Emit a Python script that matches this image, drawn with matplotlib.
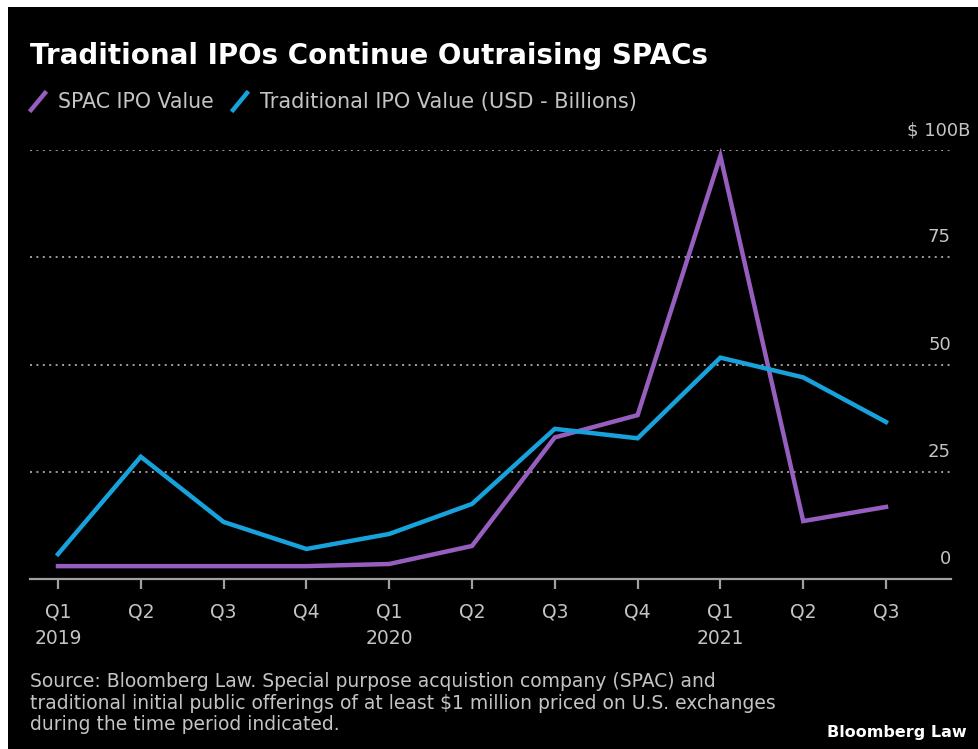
import matplotlib
matplotlib.use("Agg")
import matplotlib.pyplot as plt
from matplotlib.lines import Line2D
from matplotlib.patches import Rectangle
from matplotlib.transforms import blended_transform_factory, offset_copy

# Quarterly IPO values, USD billions
quarters = ["Q1\n2019", "Q2", "Q3", "Q4", "Q1\n2020", "Q2", "Q3", "Q4", "Q1\n2021", "Q2", "Q3"]
spac_values = [3.0, 3.0, 3.0, 3.0, 3.5, 7.7, 33.0, 38.2, 98.6, 13.5, 16.8]
traditional_values = [5.8, 28.5, 13.3, 7.0, 10.5, 17.5, 35.0, 32.8, 51.6, 47.0, 36.6]
y_ticks = [0, 25, 50, 75, 100]
y_tick_labels = ["0", "25", "50", "75", "$ 100B"]

SPAC_COLOR = "#965fbf"
TRAD_COLOR = "#17a2dc"
TEXT_COLOR = "#c4c4c4"

plt.rcParams["font.family"] = "DejaVu Sans"

fig = plt.figure(figsize=(9.79, 7.49), dpi=100, facecolor="white")
# black card with a thin white margin at top and left
fig.add_artist(Rectangle((8 / 979, 0), 1, 1 - 7 / 749, transform=fig.transFigure,
                         facecolor="black", edgecolor="none", zorder=0))

ax = fig.add_axes([30 / 979, 1 - 579 / 749, 921 / 979, 429 / 749])
ax.set_facecolor("none")

x = list(range(len(quarters)))
ax.plot(x, spac_values, color=SPAC_COLOR, lw=3.2, solid_joinstyle="miter", clip_on=False, zorder=3)
ax.plot(x, traditional_values, color=TRAD_COLOR, lw=3.2, solid_joinstyle="miter", clip_on=False, zorder=4)

ax.set_xlim(-0.338, 10.785)
ax.set_ylim(0, 100)

# dotted gridlines, labels sit above each line on the right
for v in y_ticks[1:]:
    ax.axhline(v, color="#a0a0a0", lw=1.4, ls=(0, (1, 2.3)), zorder=1)
trans = blended_transform_factory(ax.transAxes, ax.transData)
for v, lab in zip(y_ticks, y_tick_labels):
    dx = 19 if lab.startswith("$") else 0
    ax.text(1.0, v, lab, transform=offset_copy(trans, fig=fig, x=dx, y=20, units="dots"),
            ha="right", va="center", color=TEXT_COLOR, fontsize=13)

for side in ["top", "right", "left"]:
    ax.spines[side].set_visible(False)
ax.spines["bottom"].set_color("#a0a0a0")
ax.spines["bottom"].set_linewidth(1.6)
ax.set_yticks([])
ax.set_xticks(x)
ax.set_xticklabels(quarters, color=TEXT_COLOR, fontsize=13.5, linespacing=1.5)
ax.tick_params(axis="x", colors="#a0a0a0", length=7, width=1.6, pad=10, labelcolor=TEXT_COLOR)

fig.text(30 / 979, 1 - 56 / 749, "Traditional IPOs Continue Outraising SPACs",
         color="white", fontsize=20, fontweight="bold", va="center", ha="left")

# legend with slanted line swatches
fig.add_artist(Line2D([31 / 979, 45 / 979], [1 - 110 / 749, 1 - 93 / 749],
                      color=SPAC_COLOR, lw=3.2, transform=fig.transFigure))
fig.text(58 / 979, 1 - 102 / 749, "SPAC IPO Value", color=TEXT_COLOR, fontsize=14.8, va="center")
fig.add_artist(Line2D([233 / 979, 247 / 979], [1 - 110 / 749, 1 - 93 / 749],
                      color=TRAD_COLOR, lw=3.2, transform=fig.transFigure))
fig.text(260 / 979, 1 - 102 / 749, "Traditional IPO Value (USD - Billions)",
         color=TEXT_COLOR, fontsize=15, va="center")

fig.text(30 / 979, 1 - 672 / 749,
         "Source: Bloomberg Law. Special purpose acquistion company (SPAC) and\n"
         "traditional initial public offerings of at least $1 million priced on U.S. exchanges\n"
         "during the time period indicated.",
         color=TEXT_COLOR, fontsize=13.5, va="top", ha="left", linespacing=1.18)
fig.text(967 / 979, 1 - 733 / 749, "Bloomberg Law", color="white", fontsize=11.5,
         fontweight="bold", ha="right", va="center")

fig.savefig("out.png", dpi=100, facecolor="white")
